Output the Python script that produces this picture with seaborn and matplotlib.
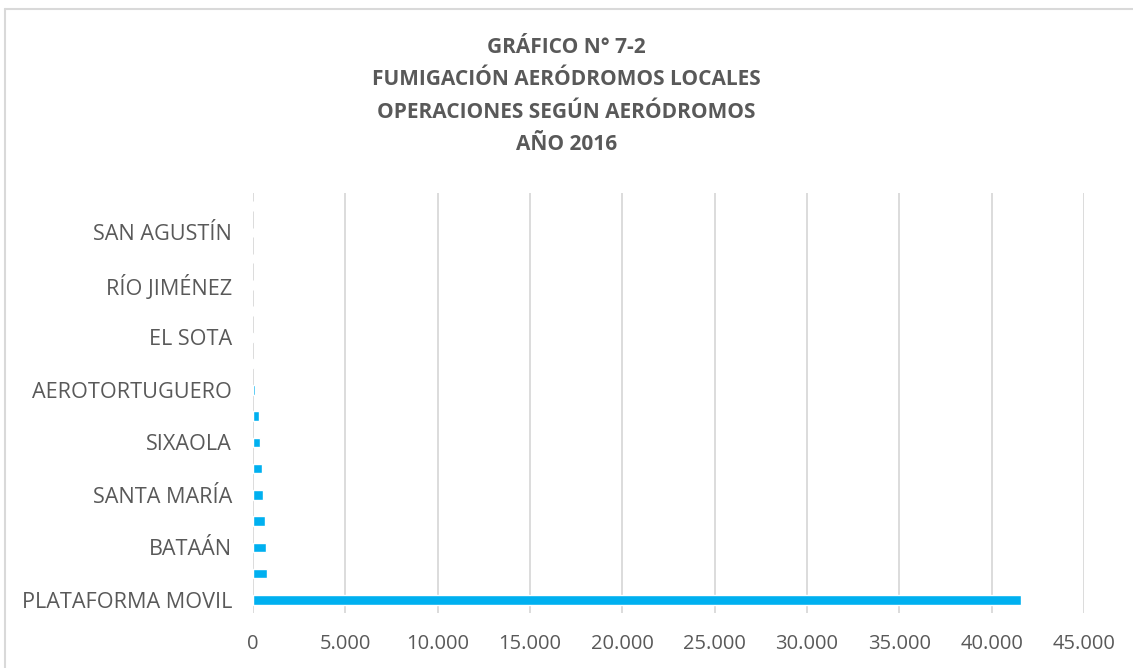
from matplotlib import pyplot as plt
from matplotlib.lines import Line2D
from matplotlib.ticker import FuncFormatter, MultipleLocator
import seaborn as sns
import pandas as pd

sns.set_theme(style='white')
plt.rcParams['font.family'] = ['Open Sans', 'DejaVu Sans']

# bottom to top; Excel only printed every other label
aerodromos = ['PLATAFORMA MOVIL', 'AERÓDROMO 2', 'BATAÁN', 'AERÓDROMO 4',
              'SANTA MARÍA', 'AERÓDROMO 6', 'SIXAOLA', 'AERÓDROMO 8',
              'AEROTORTUGUERO', 'AERÓDROMO 10', 'EL SOTA', 'AERÓDROMO 12',
              'RÍO JIMÉNEZ', 'AERÓDROMO 14', 'SAN AGUSTÍN', 'AERÓDROMO 16']
etiquetas = ['PLATAFORMA MOVIL', '', 'BATAÁN', '', 'SANTA MARÍA', '',
             'SIXAOLA', '', 'AEROTORTUGUERO', '', 'EL SOTA', '',
             'RÍO JIMÉNEZ', '', 'SAN AGUSTÍN', '']
operaciones = [41600, 770, 700, 630, 520, 485, 360, 340, 100, 40, 30, 0, 0, 0, 0, 0]

GRIS = '#595959'

df = pd.DataFrame({'aerodromo': aerodromos, 'ops': operaciones})

fig = plt.figure(figsize=(11.33, 6.68), dpi=100)
ax = fig.add_axes([253 / 1133, 1 - 613 / 668, (1084 - 253) / 1133, 420 / 668])

sns.barplot(data=df, x='ops', y='aerodromo', order=aerodromos[::-1],
            color='#00B0F0', saturation=1, width=0.37, orient='h', ax=ax)

ax.set_xlim(0, 45000)
ax.set_ylim(15.5, -0.5)
ax.xaxis.set_major_locator(MultipleLocator(5000))
ax.xaxis.set_major_formatter(FuncFormatter(lambda v, p: f'{int(v):,}'.replace(',', '.')))
ax.set_yticks(range(16))
ax.set_yticklabels(etiquetas[::-1])
ax.set_xlabel('')
ax.set_ylabel('')
ax.grid(axis='x', color='#D9D9D9', lw=1.3)
ax.grid(axis='y', visible=False)
ax.set_axisbelow(True)
for s in ax.spines.values():
    s.set_visible(False)
ax.tick_params(axis='x', length=0, pad=15, labelsize=14.5, labelcolor=GRIS)
ax.tick_params(axis='y', length=0, pad=15, labelsize=15.6, labelcolor=GRIS)

fig.text(0.5, 1 - 96 / 668,
         'GRÁFICO N° 7-2\nFUMIGACIÓN AERÓDROMOS LOCALES\nOPERACIONES SEGÚN AERÓDROMOS\nAÑO 2016',
         ha='center', va='center', fontsize=15, fontweight='bold', color=GRIS,
         linespacing=1.72)

# chart frame (only top and left edges are inside the picture)
fig.add_artist(Line2D([5 / 1133, 5 / 1133], [0, 1 - 9 / 668], transform=fig.transFigure,
                      color='#D9D9D9', lw=1.5))
fig.add_artist(Line2D([5 / 1133, 1], [1 - 9 / 668, 1 - 9 / 668], transform=fig.transFigure,
                      color='#D9D9D9', lw=1.5))

fig.savefig('out.png', dpi=100, facecolor='white')
